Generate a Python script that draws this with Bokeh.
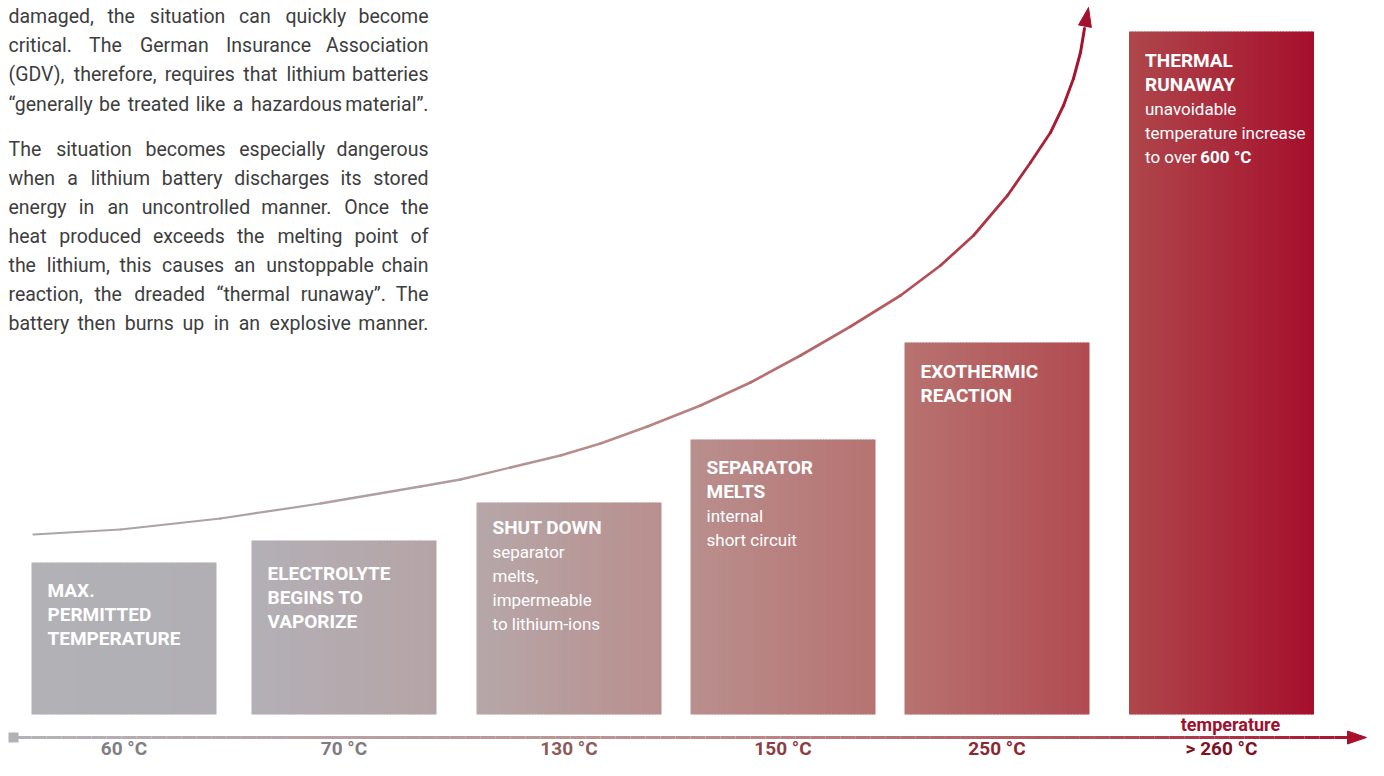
import numpy as np
from bokeh.plotting import figure
from bokeh.models import Range1d, ColumnDataSource
from bokeh.core.properties import value
from bokeh.embed import file_html
from bokeh.resources import INLINE

# ---------------- data ----------------
temperatures = ["60 °C", "70 °C", "130 °C", "150 °C", "250 °C", "> 260 °C"]
stage_titles = [
    ["MAX.", "PERMITTED", "TEMPERATURE"],
    ["ELECTROLYTE", "BEGINS TO", "VAPORIZE"],
    ["SHUT DOWN"],
    ["SEPARATOR", "MELTS"],
    ["EXOTHERMIC", "REACTION"],
    ["THERMAL", "RUNAWAY"],
]
stage_notes = [
    [],
    [],
    ["separator", "melts,", "impermeable", "to lithium-ions"],
    ["internal", "short circuit"],
    [],
    ["unavoidable", "temperature increase", "to over "],
]
stage_note_bold = ["", "", "", "", "", "600 °C"]
risk_level = [152, 174, 212, 275, 372, 683]          # bar height above the baseline
bar_center = [123.5, 343.5, 568.5, 782.5, 996.5, 1221.0]

# rising curve, heights above the bar baseline
curve_x = [33, 120, 220, 320, 420, 460, 510, 560, 600, 647, 700, 750, 800, 850,
           900, 940, 973, 1007, 1030, 1050, 1063, 1073, 1080, 1084]
curve_y = [180, 185, 196, 211, 228, 235, 247, 259, 271, 288, 309, 332, 359, 388,
           419, 449, 479, 519, 552, 582, 609, 636, 662, 686]
curve_tip = (1088, 707)

paragraph_1 = [
    "damaged, the situation can quickly become",
    "critical. The German Insurance Association",
    "(GDV), therefore, requires that lithium batteries",
    "\u201cgenerally be treated like a hazardous material\u201d.",
]
paragraph_2 = [
    "The situation becomes especially dangerous",
    "when a lithium battery discharges its stored",
    "energy in an uncontrolled manner. Once the",
    "heat produced exceeds the melting point of",
    "the lithium, this causes an unstoppable chain",
    "reaction, the dreaded \u201cthermal runaway\u201d. The",
    "battery then burns up in an explosive manner.",
]

# ---------------- style ----------------
BAR_W = 185
bar_left_color = ["#b1b1b6", "#b3b0b5", "#b6a7a9", "#b98f8e", "#b77370", "#ae474b"]
bar_right_color = ["#b1afb4", "#b5a4a7", "#b98f8e", "#b67371", "#b14b51", "#a60f2c"]
title_offset = [35, 40, 32, 35, 36, 36]
label_colors = ["#7f7e84", "#807b80", "#8b5a5b", "#8e3d42", "#8c2732", "#7f0f22"]
curve_stops = [(33, "#aaa6aa"), (430, "#b19ea1"), (650, "#b88684"), (900, "#b5575c"), (1089, "#a40f2b")]
axis_stops = [(10, "#b3b3b8"), (700, "#bc8e8e"), (1100, "#b2505a"), (1366, "#a8102c")]
FONT = value("Roboto")
TEXT_DARK = "#3d3d3d"
TS = 7   # renderer places the alphabetic baseline this many px lower; compensate
S = 5    # chart drawn this many px higher than the reference so the bottom labels fit

ROBOTO_W = {
    " ": 507, "a": 1088, "b": 1120, "c": 1045, "d": 1126, "e": 1058, "f": 693, "g": 1120,
    "h": 1100, "i": 485, "j": 477, "k": 1012, "l": 485, "m": 1751, "n": 1102, "o": 1139,
    "p": 1120, "q": 1131, "r": 677, "s": 1031, "t": 653, "u": 1100, "v": 967, "w": 1502,
    "x": 994, "y": 945, "z": 994, "A": 1336, "B": 1275, "C": 1333, "D": 1343, "E": 1164,
    "G": 1395, "I": 557, "O": 1408, "T": 1222, "V": 1303, ",": 393, ".": 527, "(": 684,
    ")": 696, "\u201c": 640, "\u201d": 640, "-": 553,
}


def text_width(s, size):
    return sum(ROBOTO_W.get(ch, 1060) for ch in s) / 2048.0 * size


def hex_rgb(h):
    h = h.lstrip("#")
    return np.array([int(h[i:i + 2], 16) for i in (0, 2, 4)], dtype=float)


def mix(c1, c2, t):
    c = hex_rgb(c1) * (1 - t) + hex_rgb(c2) * t
    return "#%02x%02x%02x" % tuple(int(round(v)) for v in c)


def stop_color(stops, x):
    for (xa, ca), (xb, cb) in zip(stops[:-1], stops[1:]):
        if x <= xb:
            return mix(ca, cb, min(max((x - xa) / (xb - xa), 0), 1))
    return stops[-1][1]


BASE = 719  # reference row of the bar baseline


def pic(y_pixel):
    """data y for a given row of the output picture"""
    return BASE - S - y_pixel


p = figure(width=1368, height=760, x_range=Range1d(0, 1368), y_range=Range1d(BASE - S - 760, BASE - S),
           output_backend="svg", toolbar_location=None, min_border=0,
           x_axis_location=None, y_axis_location=None,
           outline_line_color=None, background_fill_color="white", border_fill_color="white")
p.grid.visible = False

# ---------------- bars with horizontal gradient ----------------
N = 60
for i, c in enumerate(bar_center):
    edges = np.linspace(c - BAR_W / 2, c + BAR_W / 2, N + 1)
    rights = edges[1:].copy()
    rights[:-1] += 0.8
    cols = [mix(bar_left_color[i], bar_right_color[i], (k + 0.5) / N) for k in range(N)]
    p.quad(left=edges[:-1], right=rights, bottom=0, top=risk_level[i],
           fill_color=cols, line_color=None)

# ---------------- bar texts ----------------
t_x, t_y, t_txt = [], [], []
n_x, n_y, n_txt = [], [], []
b_x, b_y, b_txt = [], [], []
for i, c in enumerate(bar_center):
    x0 = c - BAR_W / 2 + 16
    y = risk_level[i] - title_offset[i] + TS
    for line in stage_titles[i]:
        t_x.append(x0); t_y.append(y); t_txt.append(line)
        y -= 24
    for j, line in enumerate(stage_notes[i]):
        n_x.append(x0); n_y.append(y); n_txt.append(line)
        if j == len(stage_notes[i]) - 1 and stage_note_bold[i]:
            b_x.append(x0 + text_width(line, 17)); b_y.append(y); b_txt.append(stage_note_bold[i])
        y -= 24

p.text(x=t_x, y=t_y, text=t_txt, text_font=FONT, text_font_style="bold", text_font_size="19px",
       text_color="white", text_baseline="alphabetic", text_align="left")
p.text(x=n_x, y=n_y, text=n_txt, text_font=FONT, text_font_size="17px",
       text_color="white", text_baseline="alphabetic", text_align="left")
p.text(x=b_x, y=b_y, text=b_txt, text_font=FONT, text_font_style="bold", text_font_size="17px",
       text_color="white", text_baseline="alphabetic", text_align="left")

# ---------------- rising curve ----------------
cx = np.array(curve_x, dtype=float)
cy = np.array(curve_y, dtype=float)
mids = (cx[:-1] + cx[1:]) / 2
seg_cols = [stop_color(curve_stops, m) for m in mids]
seg_w = list(np.linspace(2.2, 3.0, len(mids)))
p.segment(x0=cx[:-1], y0=cy[:-1], x1=cx[1:], y1=cy[1:], line_color=seg_cols,
          line_width=seg_w, line_cap="round")
tip = np.array(curve_tip, dtype=float)
d = tip - np.array([cx[-1], cy[-1]])
u = d / np.hypot(*d)
nrm = np.array([-u[1], u[0]])
base = tip - 19 * u
tri = [tip, base + 6.5 * nrm, base - 6.5 * nrm]
p.patch(x=[q[0] for q in tri], y=[q[1] for q in tri], fill_color="#a40f2b", line_color="#a40f2b")

# ---------------- temperature axis ----------------
AX_Y = pic(737)
ax = np.linspace(16, 1349, 90)
ax_cols = [stop_color(axis_stops, (a + b) / 2) for a, b in zip(ax[:-1], ax[1:])]
p.segment(x0=ax[:-1], y0=AX_Y, x1=ax[1:], y1=AX_Y, line_color=ax_cols, line_width=3)
p.quad(left=[8], right=[18], bottom=[AX_Y - 5], top=[AX_Y + 5], fill_color="#b1b1b6", line_color=None)
p.patch(x=[1347, 1366, 1347], y=[AX_Y + 6.5, AX_Y, AX_Y - 6.5], fill_color="#a8102c", line_color="#a8102c")

p.text(x=bar_center, y=[pic(755) + TS] * len(bar_center), text=temperatures, text_color=label_colors,
       text_font=FONT, text_font_style="bold", text_font_size="19px",
       text_align="center", text_baseline="alphabetic")
p.text(x=[1230], y=[pic(730.5) + TS], text=["temperature"], text_color="#a10f2b",
       text_font=FONT, text_font_style="bold", text_font_size="18px",
       text_align="center", text_baseline="alphabetic")

# ---------------- justified paragraph ----------------
PSIZE = 19.5
X0, X1 = 8, 428
lw = {"x": [], "y": [], "text": []}
rw = {"x": [], "y": [], "text": []}
rows = [(l, 23 + k * 29.2) for k, l in enumerate(paragraph_1)] + \
       [(l, 155.5 + k * 29.1) for k, l in enumerate(paragraph_2)]
for line, yb in rows:
    words = line.split(" ")
    ws = [text_width(w, PSIZE) for w in words]
    gap = max((X1 - X0 - sum(ws)) / (len(words) - 1), 3.0)
    x = X0
    for k, (w, ww) in enumerate(zip(words, ws)):
        if k == len(words) - 1:
            rw["x"].append(X1); rw["y"].append(pic(yb) + TS); rw["text"].append(w)
        else:
            lw["x"].append(x); lw["y"].append(pic(yb) + TS); lw["text"].append(w)
        x += ww + gap
p.text(x="x", y="y", text="text", source=ColumnDataSource(lw), text_font=FONT,
       text_font_size="%gpx" % PSIZE, text_color=TEXT_DARK, text_align="left", text_baseline="alphabetic")
p.text(x="x", y="y", text="text", source=ColumnDataSource(rw), text_font=FONT,
       text_font_size="%gpx" % PSIZE, text_color=TEXT_DARK, text_align="right", text_baseline="alphabetic")

open("out.html", "w").write(file_html(p, INLINE))
